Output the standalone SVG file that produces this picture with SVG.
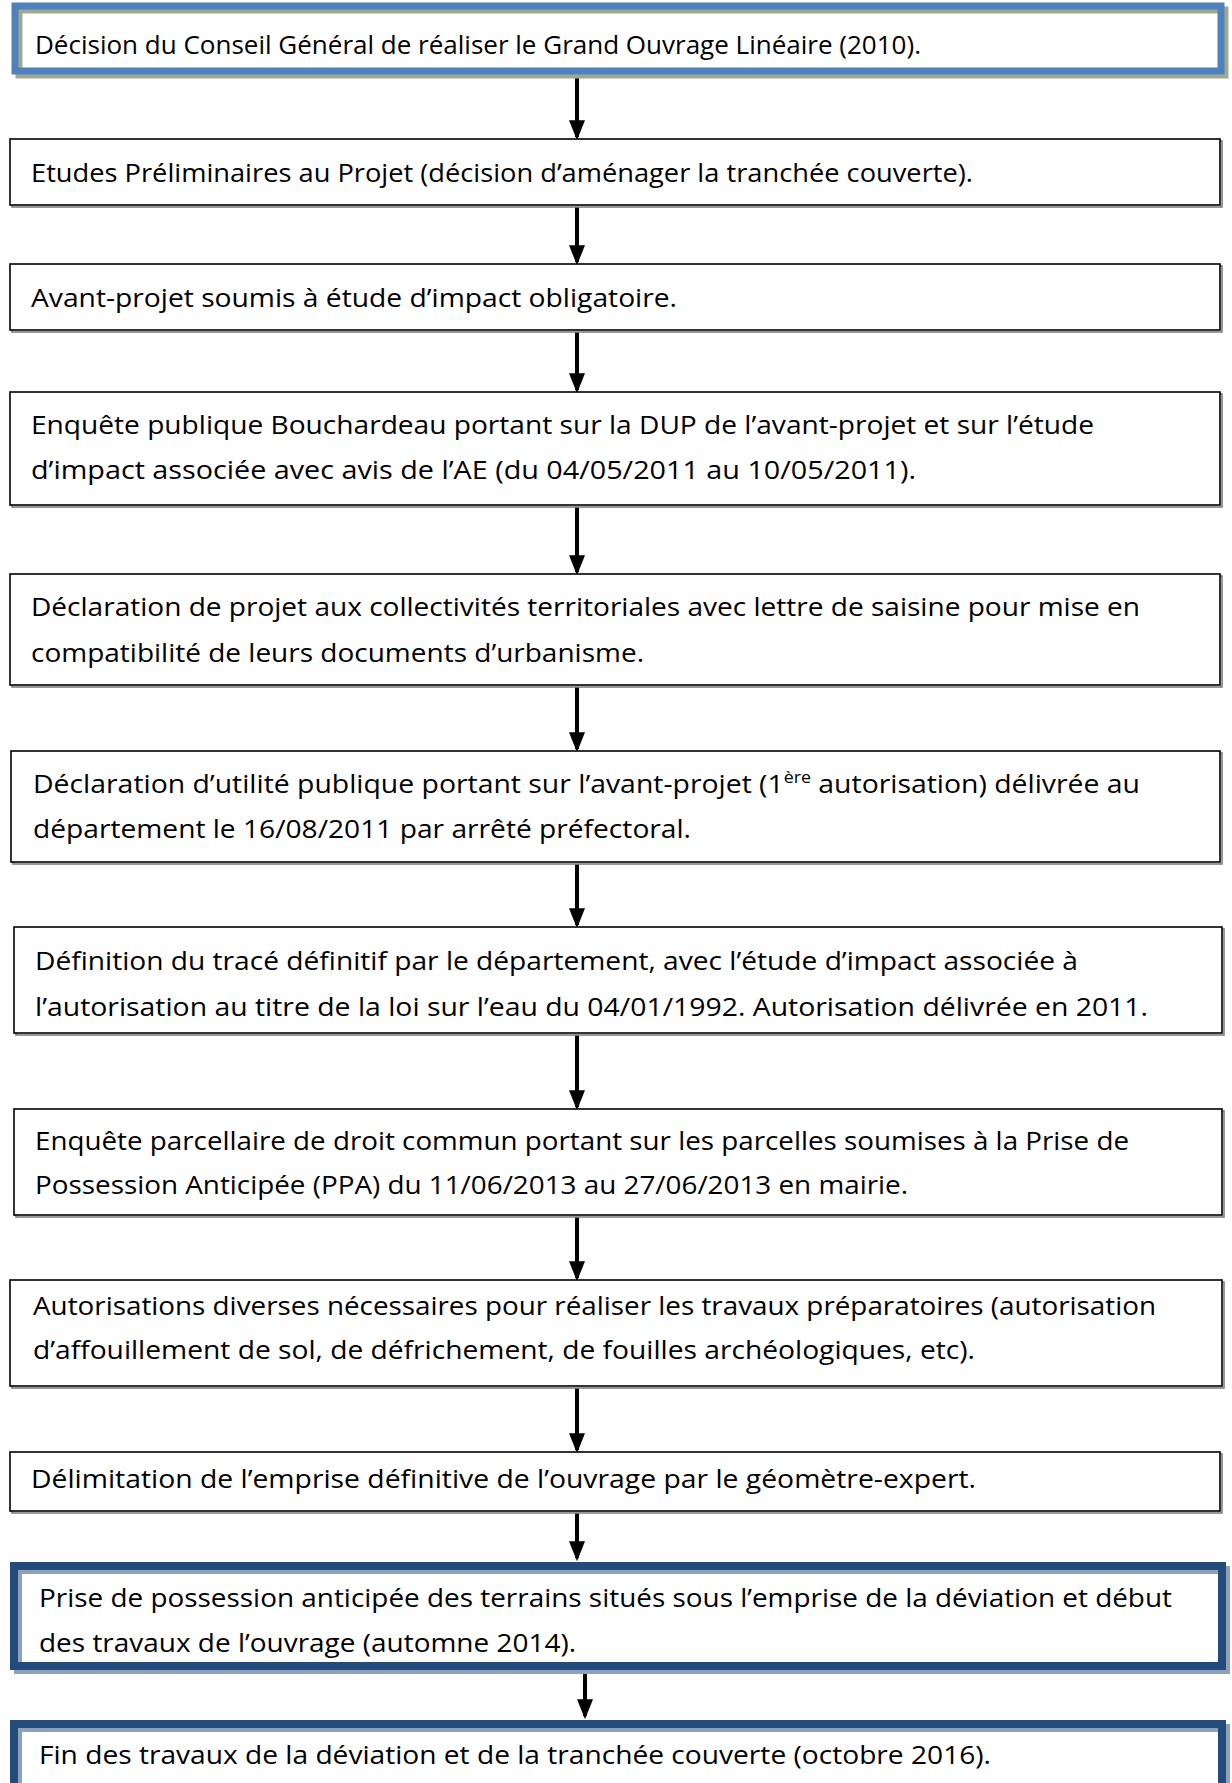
<svg xmlns="http://www.w3.org/2000/svg" width="1232" height="1783" viewBox="0 0 1232 1783">
<defs>
<marker id="ah" markerWidth="5" markerHeight="4" refX="4.2" refY="2" orient="auto" markerUnits="strokeWidth">
<path d="M0,0 L5,2 L0,4 z" fill="#000"/>
</marker>
<style>
text{font-family:"Open Sans","Noto Sans","Liberation Sans",sans-serif;font-size:25.5px;fill:#000}
.box{fill:#fff;stroke:#000;stroke-width:1.6}
.sh{fill:none;stroke:#7f7f7f;stroke-width:1.6}
.b1{fill:none;stroke:#4f81bd;stroke-width:7}
.s1{fill:none;stroke:#a2a88e;stroke-width:7}
.b2{fill:none;stroke:#234b7c;stroke-width:8}
.s2{fill:none;stroke:#8fa1b8;stroke-width:8}
.arr{stroke:#000;stroke-width:4;fill:none;marker-end:url(#ah)}
</style>
</defs>
<rect width="1232" height="1783" fill="#fff"/>
<g id="connectors">
<line class="arr" x1="577" y1="77" x2="577" y2="137"/>
<line class="arr" x1="577" y1="207" x2="577" y2="262"/>
<line class="arr" x1="577" y1="332" x2="577" y2="390"/>
<line class="arr" x1="577" y1="507" x2="577" y2="572"/>
<line class="arr" x1="577" y1="687" x2="577" y2="749"/>
<line class="arr" x1="577" y1="864" x2="577" y2="925"/>
<line class="arr" x1="577" y1="1035" x2="577" y2="1107"/>
<line class="arr" x1="577" y1="1217" x2="577" y2="1278"/>
<line class="arr" x1="577" y1="1388" x2="577" y2="1450"/>
<line class="arr" x1="577" y1="1513" x2="577" y2="1558"/>
<line class="arr" x1="585" y1="1674" x2="585" y2="1716"/>
</g>
<g id="n1">
<rect x="15" y="6" width="1206" height="65" fill="#fff"/>
<rect class="s1" x="19" y="10" width="1206" height="65"/>
<rect class="b1" x="15" y="6" width="1206" height="65"/>
<text x="35" y="54" textLength="886" lengthAdjust="spacingAndGlyphs">Décision du Conseil Général de réaliser le Grand Ouvrage Linéaire (2010).</text>
</g>
<g id="n2">
<rect class="sh" x="12" y="141" width="1210" height="66"/>
<rect class="box" x="10" y="139" width="1210" height="66"/>
<text x="31" y="182" textLength="942" lengthAdjust="spacingAndGlyphs">Etudes Préliminaires au Projet (décision d’aménager la tranchée couverte).</text>
</g>
<g id="n3">
<rect class="sh" x="12" y="266" width="1210" height="66"/>
<rect class="box" x="10" y="264" width="1210" height="66"/>
<text x="31" y="307" textLength="646" lengthAdjust="spacingAndGlyphs">Avant-projet soumis à étude d’impact obligatoire.</text>
</g>
<g id="n4">
<rect class="sh" x="12" y="394" width="1210" height="113"/>
<rect class="box" x="10" y="392" width="1210" height="113"/>
<text x="31" y="434" textLength="1063" lengthAdjust="spacingAndGlyphs">Enquête publique Bouchardeau portant sur la DUP de l’avant-projet et sur l’étude</text>
<text x="31" y="479" textLength="885" lengthAdjust="spacingAndGlyphs">d’impact associée avec avis de l’AE (du 04/05/2011 au 10/05/2011).</text>
</g>
<g id="n5">
<rect class="sh" x="12" y="576" width="1210" height="111"/>
<rect class="box" x="10" y="574" width="1210" height="111"/>
<text x="31" y="616" textLength="1109" lengthAdjust="spacingAndGlyphs">Déclaration de projet aux collectivités territoriales avec lettre de saisine pour mise en</text>
<text x="31" y="662" textLength="613" lengthAdjust="spacingAndGlyphs">compatibilité de leurs documents d’urbanisme.</text>
</g>
<g id="n6">
<rect class="sh" x="13" y="753" width="1209" height="111"/>
<rect class="box" x="11" y="751" width="1209" height="111"/>
<text x="33" y="793" textLength="1107" lengthAdjust="spacingAndGlyphs">Déclaration d’utilité publique portant sur l’avant-projet (1<tspan dy="-10" font-size="16">ère</tspan><tspan dy="10"> autorisation) délivrée au</tspan></text>
<text x="33" y="838" textLength="658" lengthAdjust="spacingAndGlyphs">département le 16/08/2011 par arrêté préfectoral.</text>
</g>
<g id="n7">
<rect class="sh" x="16" y="929" width="1208" height="106"/>
<rect class="box" x="14" y="927" width="1208" height="106"/>
<text x="35" y="970" textLength="1043" lengthAdjust="spacingAndGlyphs">Définition du tracé définitif par le département, avec l’étude d’impact associée à</text>
<text x="35" y="1016" textLength="1113" lengthAdjust="spacingAndGlyphs">l’autorisation au titre de la loi sur l’eau du 04/01/1992. Autorisation délivrée en 2011.</text>
</g>
<g id="n8">
<rect class="sh" x="16" y="1111" width="1208" height="106"/>
<rect class="box" x="14" y="1109" width="1208" height="106"/>
<text x="35" y="1150" textLength="1094" lengthAdjust="spacingAndGlyphs">Enquête parcellaire de droit commun portant sur les parcelles soumises à la Prise de</text>
<text x="35" y="1194" textLength="873" lengthAdjust="spacingAndGlyphs">Possession Anticipée (PPA) du 11/06/2013 au 27/06/2013 en mairie.</text>
</g>
<g id="n9">
<rect class="sh" x="12" y="1282" width="1212" height="106"/>
<rect class="box" x="10" y="1280" width="1212" height="106"/>
<text x="33" y="1315" textLength="1123" lengthAdjust="spacingAndGlyphs">Autorisations diverses nécessaires pour réaliser les travaux préparatoires (autorisation</text>
<text x="33" y="1359" textLength="942" lengthAdjust="spacingAndGlyphs">d’affouillement de sol, de défrichement, de fouilles archéologiques, etc).</text>
</g>
<g id="n10">
<rect class="sh" x="12" y="1454" width="1210" height="59"/>
<rect class="box" x="10" y="1452" width="1210" height="59"/>
<text x="31" y="1488" textLength="945" lengthAdjust="spacingAndGlyphs">Délimitation de l’emprise définitive de l’ouvrage par le géomètre-expert.</text>
</g>
<g id="n11">
<rect x="14" y="1566" width="1208" height="100" fill="#fff"/>
<rect class="s2" x="18" y="1570" width="1208" height="100"/>
<rect class="b2" x="14" y="1566" width="1208" height="100"/>
<text x="39" y="1607" textLength="1133" lengthAdjust="spacingAndGlyphs">Prise de possession anticipée des terrains situés sous l’emprise de la déviation et début</text>
<text x="39" y="1652" textLength="537" lengthAdjust="spacingAndGlyphs">des travaux de l’ouvrage (automne 2014).</text>
</g>
<g id="n12">
<rect x="14" y="1724" width="1208" height="100" fill="#fff"/>
<rect class="s2" x="18" y="1728" width="1208" height="100"/>
<rect class="b2" x="14" y="1724" width="1208" height="100"/>
<text x="39" y="1764" textLength="952" lengthAdjust="spacingAndGlyphs">Fin des travaux de la déviation et de la tranchée couverte (octobre 2016).</text>
</g>
</svg>
